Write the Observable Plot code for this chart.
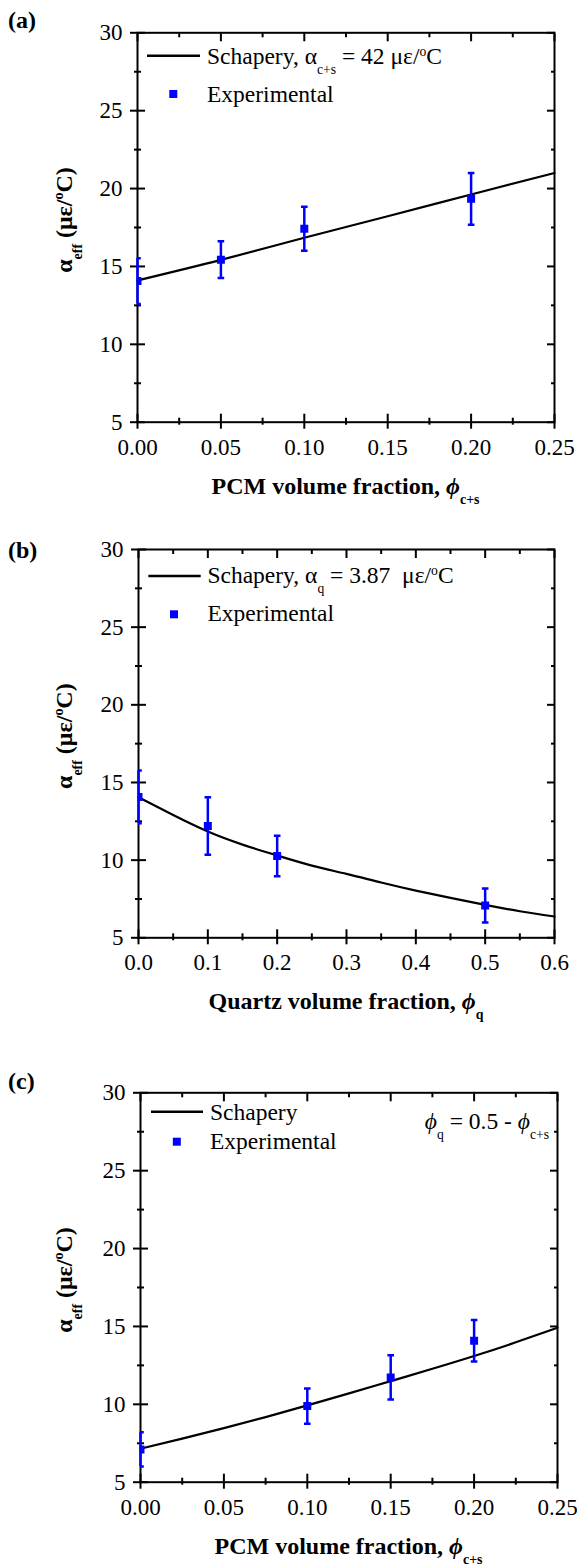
<!DOCTYPE html>
<html><head><meta charset="utf-8">
<script src="https://cdn.jsdelivr.net/npm/d3@7"></script>
<script src="https://cdn.jsdelivr.net/npm/@observablehq/plot@0.6"></script>
<style>
html,body{margin:0;padding:0;background:#fff;}
#root{width:577px;}
svg{display:block;}
svg text, svg tspan{font-family:"Liberation Serif","Tinos","Times New Roman","DejaVu Serif",serif !important;}
</style></head><body><div id="root"></div>
<script>
// ---------- data ----------
const yTicks = [5, 10, 15, 20, 25, 30];
const yMinor = [7.5, 12.5, 17.5, 22.5, 27.5];
const xTicksPCM = [0, 0.05, 0.10, 0.15, 0.20, 0.25];
const xMinorPCM = [0.025, 0.075, 0.125, 0.175, 0.225];
const xTicksQ = [0, 0.1, 0.2, 0.3, 0.4, 0.5, 0.6];
const xMinorQ = [0.05, 0.15, 0.25, 0.35, 0.45, 0.55];

// (a) PCM volume fraction
const expXA = [0, 0.05, 0.10, 0.20];
const expYA = [14.06, 15.43, 17.42, 19.34];
const expErrA = [1.47, 1.18, 1.42, 1.66];
const fitXA = [0, 0.05, 0.10, 0.15, 0.20, 0.25];
const fitYA = [14.1, 15.42, 16.84, 18.22, 19.62, 21.0];

// (b) Quartz volume fraction
const expXB = [0, 0.1, 0.2, 0.5];
const expYB = [14.07, 12.2, 10.27, 7.08];
const expErrB = [1.7, 1.85, 1.3, 1.1];
const fitXB = [0, 0.05, 0.1, 0.15, 0.2, 0.25, 0.3, 0.35, 0.4, 0.45, 0.5, 0.55, 0.6];
const fitYB = [14.05, 12.9, 11.84, 11.0, 10.3, 9.65, 9.12, 8.56, 8.04, 7.57, 7.12, 6.71, 6.37];

// (c) PCM volume fraction, phi_q = 0.5 - phi_c+s
const expXC = [0, 0.10, 0.15, 0.20];
const expYC = [7.1, 9.89, 11.73, 14.08];
const expErrC = [1.1, 1.13, 1.42, 1.33];
const fitXC = [0, 0.025, 0.05, 0.075, 0.10, 0.125, 0.15, 0.175, 0.20, 0.225, 0.25];
const fitYC = [7.15, 7.8, 8.47, 9.18, 9.93, 10.7, 11.49, 12.28, 13.1, 13.98, 14.92];

// ---------- drawing ----------
const FONT = "'Liberation Serif', 'Tinos', 'Times New Roman', 'DejaVu Serif', serif";
const BLUE = "#0000ff";

function rich(g, x, y, parts, o = {}) {
  const size = o.size || 23;
  const t = g.append("text").attr("x", x).attr("y", y)
    .attr("font-size", size)
    .attr("font-weight", o.bold ? "bold" : "normal")
    .attr("text-anchor", o.anchor || "start").attr("fill", "black")
    .style("white-space", "pre");
  if (o.rotate) t.attr("transform", `rotate(-90 ${x} ${y})`);
  let shift = 0;
  for (const p of parts) {
    const s = t.append("tspan").text(p.t);
    const target = p.sub ? size * 0.42 : p.sup ? -size * 0.36 : 0;
    s.attr("dy", target - shift); shift = target;
    if (p.sub || p.sup) s.attr("font-size", size * 0.58);
    if (p.it) s.attr("font-style", "italic");
  }
  return t;
}

const cap = {draw(ctx, size) { const w = Math.sqrt(size / Math.PI); ctx.moveTo(-w, 0); ctx.lineTo(w, 0); }};
const blank = () => "";

function panel(o) {
  const exp = o.ex.map((x, i) => ({x, y: o.ey[i], lo: o.ey[i] - o.ee[i], hi: o.ey[i] + o.ee[i]}));
  const fit = o.fx.map((x, i) => ({x, y: o.fy[i]}));
  const tk = {stroke: "black", strokeWidth: 2, label: null};
  const tkb = {...tk, tickFormat: blank};
  const plot = Plot.plot({
    width: 577, height: o.height,
    marginLeft: o.ml, marginRight: o.mr, marginTop: o.mt, marginBottom: o.mb,
    style: {fontFamily: FONT, fontSize: "23px", background: "white", color: "black", overflow: "visible"},
    x: {domain: o.xdom, axis: null},
    y: {domain: [5, 30], axis: null},
    marks: [
      Plot.axisX(o.xt, {anchor: "bottom", tickSize: 7, tickPadding: 9, tickFormat: o.xfmt, ...tk}),
      Plot.axisX(o.xt, {anchor: "bottom", tickSize: -8, ...tkb}),
      Plot.axisX(o.xm, {anchor: "bottom", tickSize: 3, ...tkb}),
      Plot.axisX(o.xm, {anchor: "bottom", tickSize: -4, ...tkb}),
      Plot.axisX(o.xt, {anchor: "top", tickSize: -8, ...tkb}),
      Plot.axisX(o.xm, {anchor: "top", tickSize: -4, ...tkb}),
      Plot.axisY(yTicks, {anchor: "left", tickSize: 7, tickPadding: 8, ...tk}),
      Plot.axisY(yTicks, {anchor: "left", tickSize: -8, ...tkb}),
      Plot.axisY(yMinor, {anchor: "left", tickSize: 3, ...tkb}),
      Plot.axisY(yMinor, {anchor: "left", tickSize: -4, ...tkb}),
      Plot.axisY(yTicks, {anchor: "right", tickSize: -8, ...tkb}),
      Plot.axisY(yMinor, {anchor: "right", tickSize: -4, ...tkb}),
      Plot.frame({stroke: "black", strokeWidth: 2}),
      Plot.line(fit, {x: "x", y: "y", stroke: "black", strokeWidth: 2.2, curve: "natural"}),
      Plot.ruleX(exp, {x: "x", y1: "lo", y2: "hi", stroke: BLUE, strokeWidth: 2.5}),
      Plot.dot(exp, {x: "x", y: "lo", symbol: cap, r: 3.3, fill: "none", stroke: BLUE, strokeWidth: 2.5, clip: true}),
      Plot.dot(exp, {x: "x", y: "hi", symbol: cap, r: 3.3, fill: "none", stroke: BLUE, strokeWidth: 2.5, clip: true}),
      Plot.dot(exp, {x: "x", y: "y", symbol: "square", r: 4.5, fill: BLUE, stroke: "none", clip: true})
    ]
  });
  const svg = d3.select(plot);
  const g = svg.append("g");
  const W = 577, fx0 = o.ml, fx1 = W - o.mr, fy0 = o.mt, fy1 = o.height - o.mb;
  g.append("text").attr("x", 8).attr("y", o.labelY).attr("text-anchor", "start")
    .attr("font-size", 24).attr("font-weight", "bold").attr("fill", "black").text(o.label);
  rich(g, 72, (fy0 + fy1) / 2 - 7,
    [{t: "α"}, {t: "eff", sub: true}, {t: " (με/"}, {t: "o", sup: true}, {t: "C)"}],
    {size: 24, bold: true, anchor: "middle", rotate: true});
  rich(g, (fx0 + fx1) / 2, fy1 + 72, o.xtitle, {size: 24, bold: true, anchor: "middle"});
  const L = o.leg;
  g.append("line").attr("x1", L.lx0).attr("x2", L.lx1).attr("y1", fy0 + L.ly).attr("y2", fy0 + L.ly)
    .attr("stroke", "black").attr("stroke-width", 2.6);
  rich(g, L.tx, fy0 + L.t1, o.legText, {size: 23.5});
  g.append("rect").attr("x", L.sx - 4).attr("y", fy0 + L.sy - 4).attr("width", 8).attr("height", 8).attr("fill", BLUE);
  rich(g, L.tx, fy0 + L.t2, [{t: "Experimental"}], {size: 23.5});
  if (o.extra) o.extra(g, fx0, fx1, fy0);
  document.getElementById("root").appendChild(plot);
}

const pcmTitle = [{t: "PCM volume fraction, "}, {t: "ϕ", it: true}, {t: "c+s", sub: true}];

panel({
  height: 520, ml: 137, mr: 23, mt: 32.3, mb: 98.3,
  xdom: [0, 0.25], xt: xTicksPCM, xm: xMinorPCM, xfmt: d3.format(".2f"),
  ex: expXA, ey: expYA, ee: expErrA, fx: fitXA, fy: fitYA,
  label: "(a)", labelY: 28, xtitle: pcmTitle,
  legText: [{t: "Schapery, α"}, {t: "c+s", sub: true}, {t: " = 42 με/"}, {t: "o", sup: true}, {t: "C"}],
  leg: {lx0: 147, lx1: 200, ly: 23.4, tx: 207, t1: 31.7, sx: 173.3, sy: 61.7, t2: 69.4}
});

panel({
  height: 520, ml: 138, mr: 23, mt: 29, mb: 102.7,
  xdom: [0, 0.6], xt: xTicksQ, xm: xMinorQ, xfmt: d3.format(".1f"),
  ex: expXB, ey: expYB, ee: expErrB, fx: fitXB, fy: fitYB,
  label: "(b)", labelY: 38,
  xtitle: [{t: "Quartz volume fraction, "}, {t: "ϕ", it: true}, {t: "q", sub: true}],
  legText: [{t: "Schapery, α"}, {t: "q", sub: true}, {t: " = 3.87  με/"}, {t: "o", sup: true}, {t: "C"}],
  leg: {lx0: 148.4, lx1: 200.7, ly: 27, tx: 207.4, t1: 34.3, sx: 174, sy: 65.3, t2: 72}
});

panel({
  height: 524, ml: 140, mr: 20, mt: 52.3, mb: 82.3,
  xdom: [0, 0.25], xt: xTicksPCM, xm: xMinorPCM, xfmt: d3.format(".2f"),
  ex: expXC, ey: expYC, ee: expErrC, fx: fitXC, fy: fitYC,
  label: "(c)", labelY: 49, xtitle: pcmTitle,
  legText: [{t: "Schapery"}],
  leg: {lx0: 151, lx1: 203, ly: 19.4, tx: 210, t1: 27.7, sx: 176.8, sy: 49.4, t2: 57},
  extra: (g, fx0, fx1, fy0) => {
    rich(g, 549, fy0 + 36.9,
      [{t: "ϕ", it: true}, {t: "q", sub: true}, {t: " = 0.5 - "}, {t: "ϕ", it: true}, {t: "c+s", sub: true}],
      {size: 23.5, anchor: "end"});
  }
});
</script>
</body></html>
